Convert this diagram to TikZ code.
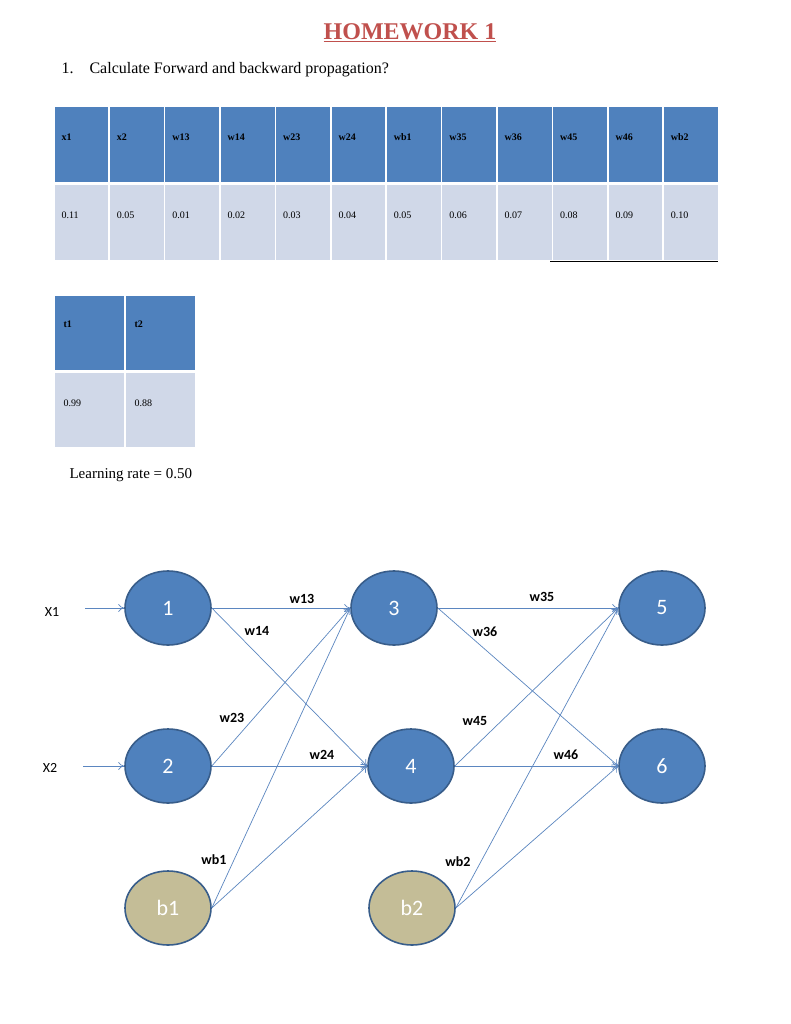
\documentclass[tikz,border=0pt]{standalone}
\usepackage{fontspec}
\usetikzlibrary{arrows.meta,shapes.geometric}
\setmainfont{Liberation Serif}
\newfontfamily\carl{Carlito}
\definecolor{hdr}{HTML}{4F81BD}
\definecolor{dat}{HTML}{D0D8E8}
\definecolor{nodeline}{HTML}{385D8A}
\definecolor{bias}{HTML}{C4BD97}
\definecolor{ttl}{HTML}{C0504D}
\definecolor{edge}{HTML}{5B86C0}
\tikzset{
 hcell/.style={fill=hdr,draw=white,line width=1.5pt,minimum width=55.4pt,minimum height=76pt,anchor=north west,inner sep=0pt},
 dcell/.style={fill=dat,draw=white,line width=1.5pt,minimum width=55.4pt,minimum height=76pt,anchor=north west,inner sep=0pt},
 htxt/.style={font=\fontsize{10}{12}\selectfont\bfseries,anchor=west},
 dtxt/.style={font=\fontsize{10}{12}\selectfont,anchor=west},
 neuron/.style={ellipse,fill=hdr,draw=nodeline,line width=1.6pt,minimum width=86pt,minimum height=74pt,text=white,font=\carl\fontsize{22}{24}\selectfont},
 biasn/.style={neuron,fill=bias},
 conn/.style={draw=edge,line width=0.7pt,-{To[length=6pt,width=8pt]}},
 wl/.style={font=\carl\bfseries\fontsize{14}{16}\selectfont},
 inl/.style={font=\carl\fontsize{14}{16}\selectfont}
}
\begin{document}
\begin{tikzpicture}[x=1pt,y=-1pt]
\useasboundingbox (0,0) rectangle (790,1024);
\fill[white] (0,0) rectangle (790,1024);
\node[font=\fontsize{24}{26}\selectfont\bfseries,text=ttl] (title) at (410,33) {\underline{HOMEWORK 1}};
\node[anchor=west,font=\fontsize{16}{18}\selectfont] (q) at (58,70) {1.\quad Calculate Forward and backward propagation?};
\foreach \h/\v [count=\i from 0] in {x1/0.11,x2/0.05,w13/0.01,w14/0.02,w23/0.03,w24/0.04,wb1/0.05,w35/0.06,w36/0.07,w45/0.08,w46/0.09,wb2/0.10}{
 \node[hcell] (h\i) at ({53+55.4*\i},106) {};
 \node[dcell] (d\i) at ({53+55.4*\i},184) {};
 \node[htxt] at ({58+55.4*\i},137) {\h};
 \node[dtxt] at ({58+55.4*\i},215) {\v};
}
\draw[line width=1pt] (550,261) -- (718,261);
\foreach \h/\v [count=\i from 0] in {t1/0.99,t2/0.88}{
 \node[hcell,minimum width=71pt] (th\i) at ({53+71*\i},294) {};
 \node[dcell,minimum width=71pt] (td\i) at ({53+71*\i},371) {};
 \node[htxt] at ({60+71*\i},324) {\h};
 \node[dtxt] at ({60+71*\i},403) {\v};
}
\node[anchor=west,font=\fontsize{15}{17}\selectfont] (lr) at (66,475) {Learning rate = 0.50};
\node[neuron] (n1) at (168,608) {1};
\node[neuron] (n2) at (168,766) {2};
\node[biasn] (b1) at (168,908) {b1};
\node[neuron] (n3) at (394,608) {3};
\node[neuron] (n4) at (411,766) {4};
\node[biasn] (b2) at (412,908) {b2};
\node[neuron] (n5) at (662,608) {5};
\node[neuron] (n6) at (662,766) {6};
\node[inl] (x1) at (52,612) {X1};
\node[inl] (x2) at (50,768) {X2};
\coordinate (x1e) at (85,608);
\coordinate (x2e) at (83,766);
\draw[conn] (x1e) -- (n1.west);
\draw[conn] (x2e) -- (n2.west);
\foreach \a/\b in {n1/n3,n1/n4,n2/n3,n2/n4,b1/n3,b1/n4,n3/n5,n3/n6,n4/n5,n4/n6,b2/n5,b2/n6}
 \draw[conn] (\a.east) -- (\b.west);
\node[wl] at (302,599) {w13};
\node[wl] at (257,631) {w14};
\node[wl] at (232,718) {w23};
\node[wl] at (322,755) {w24};
\node[wl] at (214,860) {wb1};
\node[wl] at (542,597) {w35};
\node[wl] at (485,632) {w36};
\node[wl] at (475,721) {w45};
\node[wl] at (566,755) {w46};
\node[wl] at (458,862) {wb2};
\end{tikzpicture}
\end{document}
